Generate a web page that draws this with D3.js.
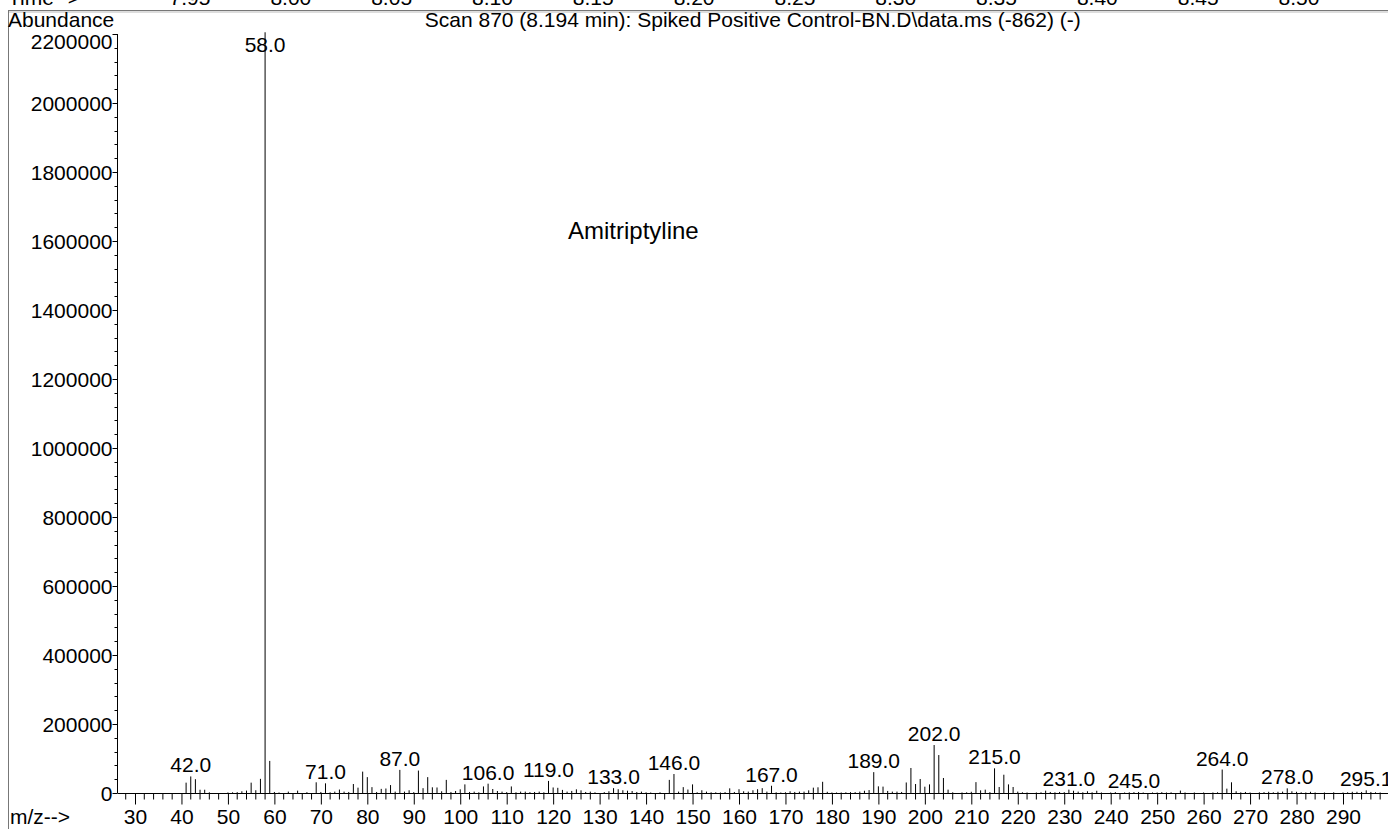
<!DOCTYPE html>
<html><head><meta charset="utf-8">
<script src="https://cdn.jsdelivr.net/npm/d3@7/dist/d3.min.js"></script>
<style>
html,body{margin:0;padding:0;background:#fff;}
svg{display:block;font-family:"Liberation Sans",Arial,Helvetica,sans-serif;}
</style></head>
<body>
<svg id="chart" width="1388" height="829"></svg>
<script>
// ---- data ----
const mz = [41,42,43,44,45,46,50,51,52,53,54,55,56,57,58,59,60,61,63,65,67,69,70,71,72,73,74,75,76,77,78,79,80,81,82,83,84,85,86,87,88,89,90,91,92,93,94,95,96,97,98,99,100,101,102,103,104,105,106,107,108,109,110,111,112,113,114,115,116,117,118,119,120,121,122,123,124,125,126,127,128,129,131,132,133,134,135,136,137,138,139,140,141,143,145,146,147,148,149,150,151,152,153,154,155,156,157,158,159,160,161,162,163,164,165,166,167,168,169,170,171,172,173,174,175,176,177,178,179,180,181,182,183,184,185,186,187,188,189,190,191,192,193,194,195,196,197,198,199,200,201,202,203,204,205,206,208,209,210,211,212,213,214,215,216,217,218,219,220,221,222,224,225,226,227,228,229,230,231,232,233,234,235,236,237,238,240,241,243,244,245,246,247,249,250,251,252,253,255,256,258,260,262,263,264,265,266,267,268,269,270,272,273,274,275,276,277,278,279,280,281,282,283,284,286,288,290,291,292,293,294,295,296,297,298];
const abundance = [30000,48000,40000,9500,9500,2000,1500,2000,2500,5000,7000,30000,8000,41000,2205000,93000,3000,1500,4000,6800,2500,31000,3000,28000,2000,4000,10000,4000,3000,26000,15500,62000,46000,17000,3000,12000,13000,23000,4000,67000,4000,8000,2500,65000,14000,46000,16500,16000,5000,38000,3000,5800,10600,25000,3000,4000,2000,19000,27000,11600,5800,4000,2500,19000,2000,4000,4000,2500,3000,4000,2000,35000,16000,15000,9000,4000,6000,10600,7700,3000,4000,2000,2500,5000,14000,11000,8000,6700,5800,3000,4000,2000,1500,2000,38000,55000,4000,17000,10000,25000,2000,8000,4000,2000,2000,1500,2500,13500,3000,11000,5000,4000,8000,11000,14000,4000,21000,2000,1500,2000,5000,3000,4000,4000,7700,15500,16500,32500,3500,1500,1500,1500,2000,2500,2500,4000,6500,8500,60500,19300,18500,6000,4000,4000,3000,30500,72500,26000,40600,18300,25000,139000,110000,43500,9700,2000,1500,2000,3500,31500,7700,9700,2500,71500,17400,53000,25000,17400,4000,2000,1500,1500,2000,6800,3000,2000,3000,2500,9700,6500,4000,2000,5000,2000,6500,1500,1500,2500,1500,2000,2500,3000,1500,1500,1500,2500,1500,2000,7000,1500,1500,1500,1500,2000,68000,12600,31000,5000,2000,3000,1500,2000,2500,3500,2000,3500,4000,13500,5000,3500,2000,1500,3500,1500,1500,2000,1500,2000,3500,3500,3000,7700,3000,2000,1500];
const labelMz = [42,58,71,87,106,119,133,146,167,189,202,215,231,245,264,278,295];
const labelText = ["42.0","58.0","71.0","87.0","106.0","119.0","133.0","146.0","167.0","189.0","202.0","215.0","231.0","245.0","264.0","278.0","295.1"];
const xTickValues = [30,40,50,60,70,80,90,100,110,120,130,140,150,160,170,180,190,200,210,220,230,240,250,260,270,280,290];
const yTickValues = [0,200000,400000,600000,800000,1000000,1200000,1400000,1600000,1800000,2000000,2200000];
const timeTicks = ["7.95","8.00","8.05","8.10","8.15","8.20","8.25","8.30","8.35","8.40","8.45","8.50"];
const titleText = "Scan 870 (8.194 min): Spiked Positive Control-BN.D\\data.ms (-862) (-)";
const compoundName = "Amitriptyline";

// ---- layout ----
const svg = d3.select("#chart");
const FS = 21;
const x = d3.scaleLinear().domain([30, 290]).range([135, 1343]);
const y = d3.scaleLinear().domain([0, 2200000]).range([793, 34]);
const tx = d3.scaleLinear().domain([7.95, 8.50]).range([190, 1299]);

// frame
svg.append("line").attr("x1",8).attr("x2",1388).attr("y1",10.5).attr("y2",10.5).attr("stroke","#777").attr("stroke-width",1);
svg.append("line").attr("x1",8).attr("x2",1388).attr("y1",12).attr("y2",12).attr("stroke","#bbb").attr("stroke-width",1);
svg.append("line").attr("x1",8.5).attr("x2",8.5).attr("y1",10).attr("y2",829).attr("stroke","#777").attr("stroke-width",1);

// time row (cut off at top)
svg.append("text").attr("x",8).attr("y",5).attr("font-size",FS).text("Time-->");
svg.selectAll("text.time").data(timeTicks).join("text").attr("class","time")
  .attr("x",d=>tx(+d)).attr("y",5).attr("text-anchor","middle").attr("font-size",FS).text(d=>d);

// header texts
svg.append("text").attr("x",8).attr("y",27).attr("font-size",FS).text("Abundance");
svg.append("text").attr("x",(117.5+1388)/2).attr("y",27).attr("text-anchor","middle").attr("font-size",FS).text(titleText);
svg.append("text").attr("x",568).attr("y",239).attr("font-size",24).text(compoundName);

// y axis
const yAxis = d3.axisLeft(y).tickValues(yTickValues).tickSize(5).tickFormat(d3.format("d"));
const gy = svg.append("g").attr("transform","translate(117.5,0)").call(yAxis);
gy.select(".domain").attr("d", `M0,${y(2200000)}V${y(0)}`).attr("stroke","#000");
gy.selectAll(".tick text").attr("font-size",FS).attr("font-family","Liberation Sans, Arial, sans-serif").attr("fill","#000").attr("x",-5)
  .attr("dy", d => d === 2200000 ? "0.7em" : "0.35em");
gy.selectAll(".tick line").attr("stroke","#000");
const yMinor = d3.range(0, 2200001, 40000).filter(v => v % 200000 !== 0);
gy.selectAll("line.minor").data(yMinor).join("line").attr("class","minor")
  .attr("x1",-3).attr("x2",0).attr("y1",d=>Math.round(y(d))+0.5).attr("y2",d=>Math.round(y(d))+0.5).attr("stroke","#000");

// x axis
const xAxis = d3.axisBottom(x).tickValues(xTickValues).tickSize(11).tickFormat(d=>d);
const gx = svg.append("g").attr("transform","translate(0,793.5)").call(xAxis);
gx.select(".domain").attr("d","M117.5,0H1388").attr("stroke","#000");
gx.selectAll(".tick text").attr("font-size",FS).attr("font-family","Liberation Sans, Arial, sans-serif").attr("fill","#000").attr("y",30.5).attr("dy","0");
gx.selectAll(".tick line").attr("stroke","#000");
const xMinor = d3.range(28, 299, 2).filter(v => v % 10 !== 0);
gx.selectAll("line.minor").data(xMinor).join("line").attr("class","minor")
  .attr("x1",d=>x(d)).attr("x2",d=>x(d)).attr("y1",0).attr("y2",6).attr("stroke","#000");
svg.append("text").attr("x",10).attr("y",824).attr("font-size",FS).text("m/z-->");

// peaks
const peaks = mz.map((m,i)=>({m, v: abundance[i]}));
svg.append("g").selectAll("line").data(peaks).join("line")
  .attr("x1",d=>x(d.m)).attr("x2",d=>x(d.m))
  .attr("y1",y(0)).attr("y2",d=>y(d.v))
  .attr("stroke","#000").attr("stroke-width",1);

// peak labels
const lookup = new Map(peaks.map(p=>[p.m,p.v]));
svg.append("g").selectAll("text").data(labelMz).join("text")
  .attr("x",d=>x(d)).attr("y",d=>Math.max(y(lookup.get(d)||0)-4, 52))
  .attr("text-anchor","middle").attr("font-size",FS).text((d,i)=>labelText[i]);
</script>
</body></html>
